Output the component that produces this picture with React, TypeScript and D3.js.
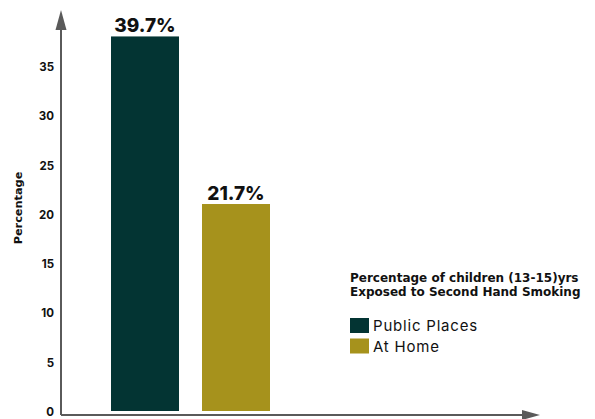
import React from "react";
import * as d3 from "d3";

const categories = ["Public Places", "At Home"];
const barValues = [38.1, 21.1];
const valueLabels = ["39.7%", "21.7%"];
const colors = ["#033433", "#a6921c"];
const yTicks = [0, 5, 10, 15, 20, 25, 30, 35];
const legendTitle = ["Percentage of children (13-15)yrs", "Exposed to Second Hand Smoking"];
const yTitle = "Percentage";

const W = 595;
const H = 419;
const FONT = "Inter, 'DejaVu Sans', sans-serif";
const DV = "'DejaVu Sans', sans-serif";

export default function App() {
  const y = d3.scaleLinear().domain([0, 35]).range([412, 67]);
  const x = d3.scaleBand().domain(categories).range([111, 270]).paddingInner(0.2527).paddingOuter(0);
  const axisColor = "#5a5a5a";
  const axisX = 61;
  const axisY = 415;
  return (
    <div style={{ position: "absolute", left: 0, top: 0 }}>
      <svg width={W} height={H} style={{ display: "block", background: "#fff" }}>
        {/* bars */}
        {categories.map((c, i) => (
          <g key={c}>
            <rect x={x(c)} y={y(barValues[i])} width={x.bandwidth()} height={411 - y(barValues[i])} fill={colors[i]} />
            <text x={(x(c) as number) + x.bandwidth() / 2} y={y(barValues[i]) - 4} textAnchor="middle" fontFamily={FONT} fontWeight={800} fontSize={19} fill="#111">
              {valueLabels[i]}
            </text>
          </g>
        ))}
        {/* y axis */}
        <line x1={axisX} x2={axisX} y1={28} y2={axisY} stroke={axisColor} strokeWidth={2} />
        <path d={`M${axisX},10 L${axisX + 5.5},30 L${axisX - 5.5},30 Z`} fill={axisColor} />
        {/* x axis */}
        <line x1={axisX} x2={524} y1={axisY} y2={axisY} stroke={axisColor} strokeWidth={2} />
        <path d={`M540,${axisY} L522,${axisY - 5} L522,${axisY + 5} Z`} fill={axisColor} />
        {yTicks.map((t) => (
          <text key={t} x={54} y={y(t)} dy="0.35em" textAnchor="end" fontFamily={FONT} fontWeight={700} fontSize={11.5} fill="#111">
            {t}
          </text>
        ))}
        <text transform={`translate(22,208) rotate(-90)`} textAnchor="middle" fontFamily={DV} fontWeight={700} fontSize={11.3} fill="#111">
          {yTitle}
        </text>
        {/* legend */}
        {legendTitle.map((l, i) => (
          <text key={l} x={350} y={282 + i * 14} fontFamily={DV} fontWeight={700} fontSize={12} fill="#111">
            {l}
          </text>
        ))}
        {categories.map((c, i) => (
          <g key={c}>
            <rect x={350} y={318 + i * 20.5} width={19} height={15} fill={colors[i]} />
            <text x={373} y={331 + i * 20.5} fontFamily={FONT} fontWeight={400} fontSize={15} letterSpacing={0.8} fill="#111">
              {c}
            </text>
          </g>
        ))}
      </svg>
    </div>
  );
}
